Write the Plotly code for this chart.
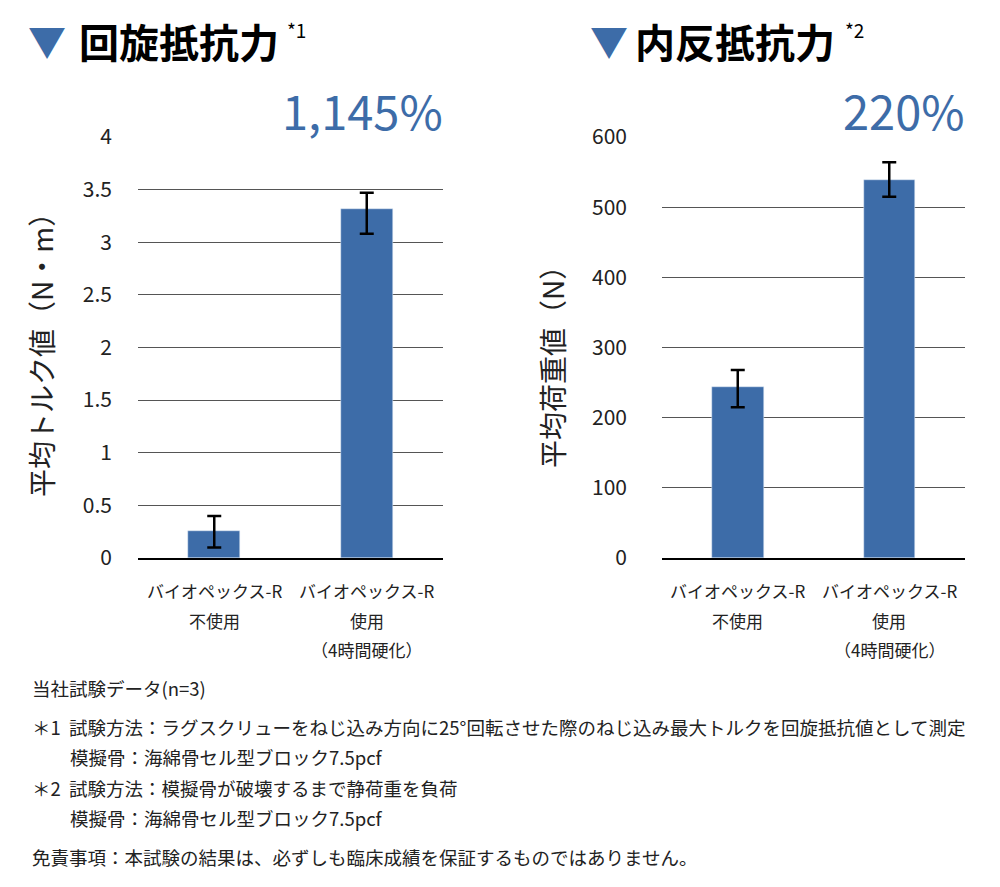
import plotly.graph_objects as go

# the page body adds an 8px margin, so the figure is drawn 8px smaller
OFF = 8
W, H = 1000 - OFF, 887 - OFF

# data
categories = ["不使用", "使用（4時間硬化）"]
label_lines = [["バイオペックス-R", "不使用"], ["バイオペックス-R", "使用", "（4時間硬化）"]]

torque_mean = [0.26, 3.32]
torque_err_up = [0.14, 0.15]
torque_err_down = [0.16, 0.24]

load_mean = [244, 539]
load_err_up = [24, 25]
load_err_down = [29, 24]

torque_ticks = [0, 0.5, 1, 1.5, 2, 2.5, 3, 3.5, 4]
load_ticks = [0, 100, 200, 300, 400, 500, 600]

titles = ["回旋抵抗力", "内反抵抗力"]
title_marks = ["*1", "*2"]
gains = ["1,145%", "220%"]
y_titles = ["平均トルク値（N・m）", "平均荷重値（N）"]

notes = [
    ("当社試験データ(n=3)", 0),
    ("＊1  試験方法：ラグスクリューをねじ込み方向に25°回転させた際のねじ込み最大トルクを回旋抵抗値として測定", 0),
    ("模擬骨：海綿骨セル型ブロック7.5pcf", 1),
    ("＊2  試験方法：模擬骨が破壊するまで静荷重を負荷", 0),
    ("模擬骨：海綿骨セル型ブロック7.5pcf", 1),
    ("免責事項：本試験の結果は、必ずしも臨床成績を保証するものではありません。", 0),
]

BLUE = "#3D6CA8"
FONT = "Noto Sans CJK JP"


def px_x(x):
    return (x - OFF) / W


def px_y(y):
    return 1 - (y - OFF) / H


fig = go.Figure()

fig.add_trace(go.Bar(
    x=categories, y=torque_mean, width=0.34, marker_color=BLUE,
    error_y=dict(type="data", array=torque_err_up, arrayminus=torque_err_down,
                 color="black", thickness=2.5, width=7),
    xaxis="x", yaxis="y", showlegend=False, hoverinfo="skip",
))
fig.add_trace(go.Bar(
    x=categories, y=load_mean, width=0.34, marker_color=BLUE,
    error_y=dict(type="data", array=load_err_up, arrayminus=load_err_down,
                 color="black", thickness=2.5, width=7),
    xaxis="x2", yaxis="y2", showlegend=False, hoverinfo="skip",
))

ydom = [px_y(558), px_y(137)]
axis_x = dict(showticklabels=False, showgrid=False, showline=True, linecolor="black",
              linewidth=1.5, ticks="", range=[-0.5, 1.5], fixedrange=True,
              automargin=False)
axis_y = dict(showgrid=True, gridcolor="#555555", gridwidth=1, zeroline=False,
              showline=False, ticks="", domain=ydom, automargin=False,
              tickfont=dict(family=FONT, size=21, color="#222222"))

fig.update_layout(
    width=W, height=H,
    margin=dict(l=0, r=0, t=0, b=0, pad=0),
    paper_bgcolor="white", plot_bgcolor="white",
    font=dict(family=FONT, color="#222222"),
    bargap=0,
    xaxis=dict(axis_x, domain=[px_x(138), px_x(443)], anchor="y"),
    xaxis2=dict(axis_x, domain=[px_x(662), px_x(965)], anchor="y2"),
    yaxis=dict(axis_y, anchor="x", range=[0, 4], tickvals=torque_ticks,
               ticktext=[f"{t:g}" for t in torque_ticks], ticklabelstandoff=25),
    yaxis2=dict(axis_y, anchor="x2", range=[0, 600], tickvals=load_ticks,
                ticklabelstandoff=34),
)

anns = []

# panel headers
for i, (tx, sx, tri_x, gx) in enumerate([(77, 285, 47, 445), (633, 843, 609, 967)]):
    anns.append(dict(text="▼", x=px_x(tri_x), y=px_y(39), xanchor="center", yanchor="middle",
                     font=dict(family=FONT, size=38, color=BLUE)))
    anns.append(dict(text=f"<b>{titles[i]}</b>", x=px_x(tx), y=px_y(41), xanchor="left",
                     yanchor="middle", font=dict(family=FONT, size=40, color="black")))
    anns.append(dict(text=title_marks[i], x=px_x(sx), y=px_y(30), xanchor="left",
                     yanchor="middle", font=dict(family=FONT, size=19, color="black")))
    anns.append(dict(text=gains[i], x=px_x(gx), y=px_y(110), xanchor="right",
                     yanchor="middle", font=dict(family=FONT, size=47, color=BLUE)))

# y axis titles
for i, (cx, cy) in enumerate([(41, 348), (552, 360)]):
    anns.append(dict(text=y_titles[i], x=px_x(cx), y=px_y(cy), textangle=-90,
                     xanchor="center", yanchor="middle",
                     font=dict(family=FONT, size=28, color="#222222")))

# category labels, one annotation per line
line_y = [590, 620, 649]
for xref in ["x", "x2"]:
    for cat, lines in zip(categories, label_lines):
        for j, ln in enumerate(lines):
            anns.append(dict(text=ln, x=cat, xref=xref, y=px_y(line_y[j]), yref="paper",
                             xanchor="center", yanchor="middle",
                             font=dict(family=FONT, size=17, color="#222222")))

# footnotes
note_y = [688, 727, 757, 788, 818, 857]
for (txt, indent), ny in zip(notes, note_y):
    anns.append(dict(text=txt, x=px_x(68 if indent else 30), y=px_y(ny), xanchor="left",
                     yanchor="middle", font=dict(family=FONT, size=18.5, color="#222222")))

for a in anns:
    a.setdefault("xref", "paper")
    a.setdefault("yref", "paper")
    a["showarrow"] = False
fig.update_layout(annotations=anns)

fig.write_html("out.html")
